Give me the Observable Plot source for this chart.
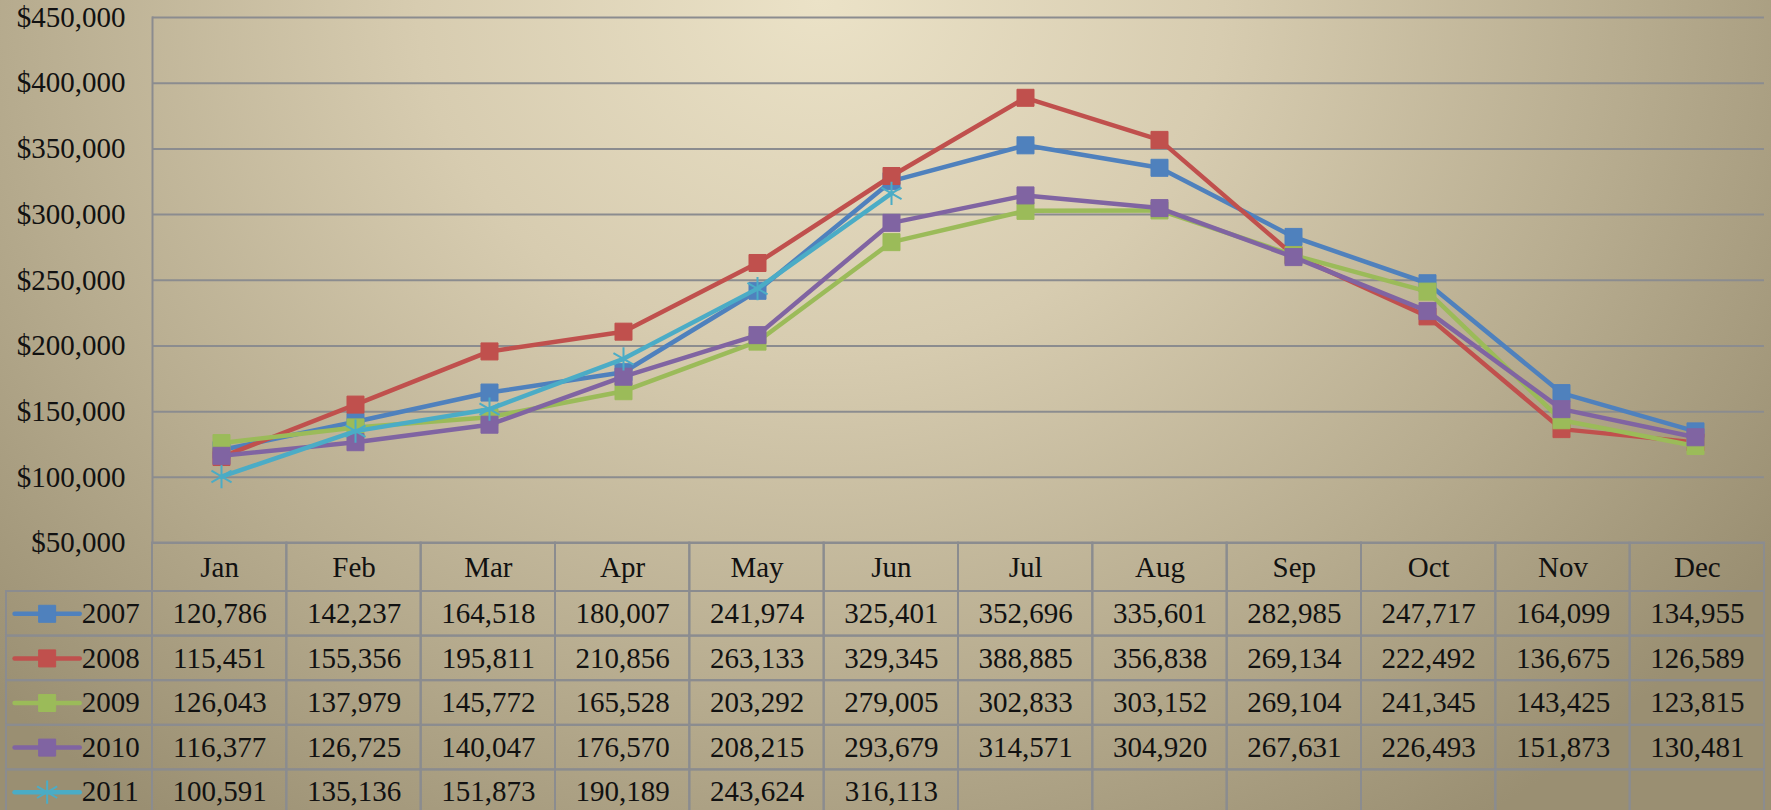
<!DOCTYPE html>
<html>
<head>
<meta charset="utf-8">
<script src="https://cdn.jsdelivr.net/npm/d3@7"></script>
<script src="https://cdn.jsdelivr.net/npm/@observablehq/plot@0.6"></script>
<style>
  html, body { margin: 0; padding: 0; overflow: hidden; background: #b8ad90; }
  #wrap {
    position: relative; width: 1771px; height: 810px; overflow: hidden;
    background: radial-gradient(ellipse 1150px 1000px at 820px 0px, #ebe2c7 0%, #d7ccb0 35%, #b7ac8f 70%, #9a8f72 100%);
    font-family: "Liberation Serif", "DejaVu Serif", serif;
  }
  #chart { position: absolute; left: 0; top: 0; }
  #table { position: absolute; left: 0; top: 530px; }
  #wrap svg { overflow: visible; }
  #wrap svg, #wrap svg text, #wrap svg g { font-family: "Liberation Serif", "DejaVu Serif", serif !important; }
</style>
</head>
<body>
<div id="wrap"><div id="chart"></div><div id="table"></div></div>
<script>
// ---- data ----
const months = ["Jan", "Feb", "Mar", "Apr", "May", "Jun", "Jul", "Aug", "Sep", "Oct", "Nov", "Dec"];
const years = ["2007", "2008", "2009", "2010", "2011"];
const sales2007 = [120786, 142237, 164518, 180007, 241974, 325401, 352696, 335601, 282985, 247717, 164099, 134955];
const sales2008 = [115451, 155356, 195811, 210856, 263133, 329345, 388885, 356838, 269134, 222492, 136675, 126589];
const sales2009 = [126043, 137979, 145772, 165528, 203292, 279005, 302833, 303152, 269104, 241345, 143425, 123815];
const sales2010 = [116377, 126725, 140047, 176570, 208215, 293679, 314571, 304920, 267631, 226493, 151873, 130481];
const sales2011 = [100591, 135136, 151873, 190189, 243624, 316113, null, null, null, null, null, null];
const yTicks = [50000, 100000, 150000, 200000, 250000, 300000, 350000, 400000, 450000];
const colors = ["#4f81bd", "#c0504d", "#9bbb59", "#8064a2", "#4bacc6"];
const symbols = ["square", "square", "square", "square", "asterisk"];

const seriesValues = [sales2007, sales2008, sales2009, sales2010, sales2011];
const points = years.flatMap((year, k) =>
  seriesValues[k].map((value, i) => ({year, k, month: months[i], i, value})).filter(d => d.value != null));

// ---- layout ----
const W = 1771;
const chartLeft = 152, tableLeft = 6, rightM = 7;
const gridColor = "#8b8c8f";
const fontSize = 29;
const serif = "'Liberation Serif', 'DejaVu Serif', serif";
const fmtY = d3.format("$,");
const fmtV = d3.format(",");

// ---- chart ----
const chartMarks = [
  Plot.gridY(yTicks, {stroke: gridColor, strokeOpacity: 1, strokeWidth: 2}),
  Plot.frame({anchor: "left", stroke: gridColor, strokeWidth: 2}),
  Plot.axisY(yTicks, {tickSize: 0, tickPadding: 27, tickFormat: fmtY, fontSize, fontFamily: serif, fill: "#111", label: null})
];
years.forEach((year, k) => {
  const data = points.filter(d => d.k === k);
  chartMarks.push(Plot.line(data, {x: "month", y: "value", stroke: colors[k], strokeWidth: 4.5, strokeLinejoin: "round", strokeLinecap: "round"}));
  if (symbols[k] === "asterisk") {
    chartMarks.push(Plot.dot(data, {x: "month", y: "value", symbol: "asterisk", r: 11, stroke: colors[k], strokeWidth: 2}));
  } else {
    chartMarks.push(Plot.dot(data, {x: "month", y: "value", symbol: "square", r: 9.6, fill: colors[k], stroke: colors[k], strokeWidth: 1}));
  }
});

const chart = Plot.plot({
  width: W, height: 560,
  marginLeft: chartLeft, marginRight: rightM, marginTop: 17, marginBottom: 17.5,
  style: {background: "transparent", fontFamily: serif, fontSize: fontSize + "px", color: "#111"},
  x: {type: "point", domain: months, padding: 0.5, axis: null},
  y: {domain: [50000, 450000], axis: null},
  marks: chartMarks
});
document.getElementById("chart").append(chart);

// ---- data table ----
const legendCols = 12 * (chartLeft - tableLeft) / (W - chartLeft - rightM);
const rowPx = 44.6, headerPx = 48.5, tMarginTop = 12.5, tMarginBottom = 6;
const hdrRows = headerPx / rowPx;
const tHeight = tMarginTop + headerPx + 5 * rowPx + tMarginBottom;

const cells = [];
months.forEach((m, i) => cells.push({x1: i, x2: i + 1, y1: -hdrRows, y2: 0, text: m}));
years.forEach((year, k) => {
  cells.push({x1: -legendCols, x2: 0, y1: k, y2: k + 1, text: ""});
  months.forEach((m, i) => {
    const v = seriesValues[k][i];
    cells.push({x1: i, x2: i + 1, y1: k, y2: k + 1, text: v == null ? "" : fmtV(v)});
  });
});
const legendRows = years.map((year, k) => ({year, k, a: -legendCols + 0.06, b: -legendCols + 0.545, c: -legendCols + 0.56, m: (-legendCols + 0.06 + -legendCols + 0.545) / 2, y: k + 0.5}));

const tableMarks = [
  Plot.rect(cells, {x1: "x1", x2: "x2", y1: "y1", y2: "y2", fill: "none", stroke: gridColor, strokeWidth: 2}),
  Plot.text(cells, {x: d => (d.x1 + d.x2) / 2, y: d => (d.y1 + d.y2) / 2, text: "text", fontSize, fontFamily: serif, fill: "#111"}),
  Plot.link(legendRows, {x1: "a", x2: "b", y1: "y", y2: "y", stroke: (d) => colors[d.k], strokeWidth: 4.5, strokeLinecap: "round"}),
  Plot.dot(legendRows.filter(d => symbols[d.k] === "square"), {x: "m", y: "y", symbol: "square", r: 9.6, fill: d => colors[d.k], stroke: d => colors[d.k], strokeWidth: 1}),
  Plot.dot(legendRows.filter(d => symbols[d.k] === "asterisk"), {x: "m", y: "y", symbol: "asterisk", r: 11, stroke: d => colors[d.k], strokeWidth: 2}),
  Plot.text(legendRows, {x: "c", y: "y", text: "year", textAnchor: "start", fontSize, fontFamily: serif, fill: "#111"})
];

const table = Plot.plot({
  width: W, height: tHeight,
  marginLeft: tableLeft, marginRight: rightM, marginTop: tMarginTop, marginBottom: tMarginBottom,
  style: {background: "transparent", fontFamily: serif, fontSize: fontSize + "px", color: "#111"},
  x: {type: "linear", domain: [-legendCols, 12], axis: null},
  y: {type: "linear", domain: [-hdrRows, 5], range: [tMarginTop, tHeight - tMarginBottom], axis: null},
  color: {type: "identity"},
  marks: tableMarks
});
document.getElementById("table").append(table);
</script>
</body>
</html>
